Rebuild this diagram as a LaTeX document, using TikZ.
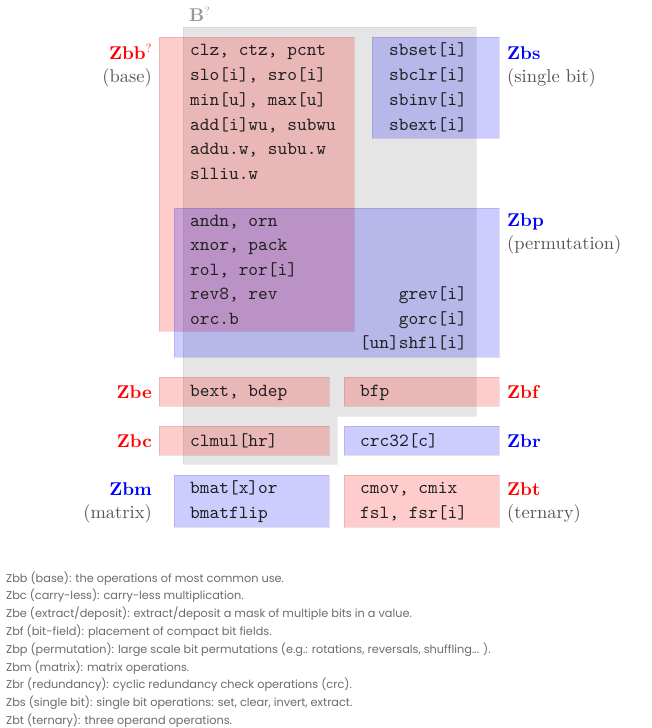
\documentclass[tikz,border=0pt]{standalone}
\usepackage{fontspec}
\newfontfamily\legendfont{Poppins}
\newfontfamily\codefont{lmmono10-regular.otf}
\newfontfamily\labelfont{lmroman10-regular.otf}[BoldFont=lmroman10-bold.otf]
\usepackage{xcolor}
\usepackage{tikz}
\usetikzlibrary{positioning}

\begin{document}
\begin{tikzpicture}[x=1pt,y=-1pt,
    redbox/.style={fill=red,fill opacity=0.2,draw=red!50!black,draw opacity=0.12,line width=0.8pt},
    bluebox/.style={fill=blue,fill opacity=0.2,draw=blue!50!black,draw opacity=0.12,line width=0.8pt},
    basearea/.style={fill=black,fill opacity=0.1,draw=black,draw opacity=0.06,line width=0.8pt},
    code/.style={font=\codefont\fontsize{18.5}{22}\selectfont,text=black!88,inner sep=0pt},
    extred/.style={font=\labelfont\fontsize{18.5}{22}\selectfont\bfseries,text=red,inner sep=0pt},
    extblue/.style={font=\labelfont\fontsize{18.5}{22}\selectfont\bfseries,text=blue,inner sep=0pt},
    extnote/.style={font=\labelfont\fontsize{18.5}{22}\selectfont,text=black!68,inner sep=0pt},
    legend/.style={font=\legendfont\fontsize{11.3}{14}\selectfont,text=black!58,inner sep=0pt,anchor=base west}]
  \useasboundingbox (0,0) rectangle (651,728);

  \draw[basearea] (183,27) -- (476,27) -- (476,416) -- (337,416)
    -- (337,464) -- (183,464) -- cycle;
  \node[font=\labelfont\fontsize{18.5}{22}\selectfont\bfseries,text=black!40,inner sep=0pt,anchor=base west] (B) at (189,21.5) {B$^?$};

  \draw[redbox] (159,37) rectangle (354,331);
  \draw[bluebox] (372,37) rectangle (499,138);
  \draw[bluebox] (174,208) rectangle (499,357);
  \draw[redbox] (159,377) rectangle (329,406);
  \draw[redbox] (344,377) rectangle (499,406);
  \draw[redbox] (159,426) rectangle (329,455);
  \draw[bluebox] (344,426) rectangle (499,455);
  \draw[bluebox] (174,475) rectangle (329,527);
  \draw[redbox] (344,475) rectangle (499,527);

  \foreach \t [count=\i] in {{clz, ctz, pcnt},{slo[i], sro[i]},{min[u], max[u]},
      {add[i]wu, subwu},{addu.w, subu.w},{slliu.w}}
    \node[code,anchor=base west] (zbb\i) at (190,55.7+24.8*\i-24.8) {\t};
  \foreach \t [count=\i] in {sbset[i],sbclr[i],sbinv[i],sbext[i]}
    \node[code,anchor=base east] (zbs\i) at (467,55.7+24.8*\i-24.8) {\t};
  \foreach \t [count=\i] in {{andn, orn},{xnor, pack},{rol, ror[i]},{rev8, rev},{orc.b}}
    \node[code,anchor=base west] (zbp\i) at (190,226.5+24.4*\i-24.4) {\t};
  \foreach \t [count=\i from 4] in {grev[i],gorc[i],[un]shfl[i]}
    \node[code,anchor=base east] (perm\i) at (467,226.5+24.4*\i-24.4) {\t};

  \node[code,anchor=base west] (bext) at (190,396.5) {bext, bdep};
  \node[code,anchor=base west] (bfp) at (360,396.5) {bfp};
  \node[code,anchor=base west] (clmul) at (190,446) {clmul[hr]};
  \node[code,anchor=base west] (crc) at (360,446) {crc32[c]};
  \node[code,anchor=base west] (bmat) at (190,493.5) {bmat[x]or};
  \node[code,anchor=base west] (bmatflip) at (190,518) {bmatflip};
  \node[code,anchor=base west] (cmov) at (360,493.5) {cmov, cmix};
  \node[code,anchor=base west] (fsl) at (360,518) {fsl, fsr[i]};

  \node[extred,anchor=base east] (Zbb) at (152,59) {Zbb$^?$};
  \node[extnote,anchor=base east] (base) at (152,82.5) {(base)};
  \node[extblue,anchor=base west] (Zbs) at (507,59) {Zbs};
  \node[extnote,anchor=base west] (single) at (507,82) {(single bit)};
  \node[extblue,anchor=base west] (Zbp) at (507,226.5) {Zbp};
  \node[extnote,anchor=base west] (permutation) at (507,249.5) {(permutation)};
  \node[extred,anchor=base east] (Zbe) at (152,398.5) {Zbe};
  \node[extred,anchor=base west] (Zbf) at (507,398.5) {Zbf};
  \node[extred,anchor=base east] (Zbc) at (152,447.5) {Zbc};
  \node[extblue,anchor=base west] (Zbr) at (507,447.5) {Zbr};
  \node[extblue,anchor=base east] (Zbm) at (152,495.5) {Zbm};
  \node[extnote,anchor=base east] (matrix) at (152,518.5) {(matrix)};
  \node[extred,anchor=base west] (Zbt) at (507,495.5) {Zbt};
  \node[extnote,anchor=base west] (ternary) at (507,518.5) {(ternary)};

  \foreach \t [count=\i] in {{Zbb (base): the operations of most common use.},
      {Zbc (carry-less): carry-less multiplication.},
      {Zbe (extract/deposit): extract/deposit a mask of multiple bits in a value.},
      {Zbf (bit-field): placement of compact bit fields.},
      {Zbp (permutation): large scale bit permutations (e.g.: rotations, reversals, shuffling.{}.{}. ).},
      {Zbm (matrix): matrix operations.},
      {Zbr (redundancy): cyclic redundancy check operations (crc).},
      {Zbs (single bit): single bit operations: set, clear, invert, extract.},
      {Zbt (ternary): three operand operations.}}
    \node[legend] (desc\i) at (6,582+17.8*\i-17.8) {\t};
\end{tikzpicture}
\end{document}
